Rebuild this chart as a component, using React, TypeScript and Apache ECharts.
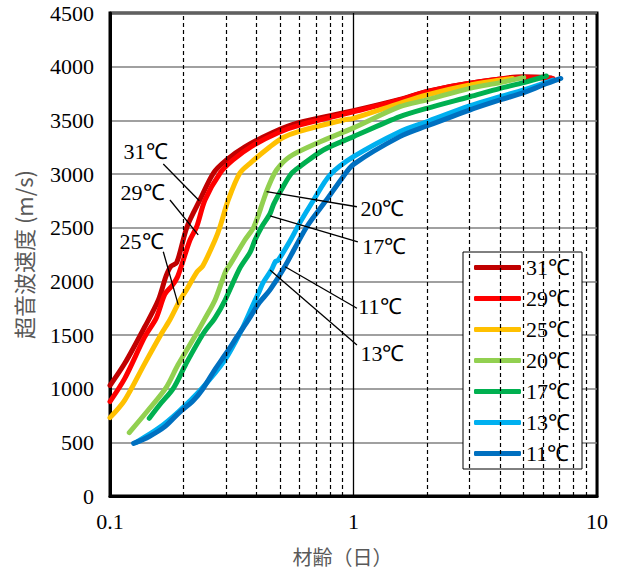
import React, { useEffect, useRef } from "react";
import * as echarts from "echarts";

const seriesNames = ["31℃", "29℃", "25℃", "20℃", "17℃", "13℃", "11℃"];
const seriesColors = ["#C00000", "#FF0000", "#FFC000", "#92D050", "#00B050", "#00B0F0", "#0070C0"];

const d31 = [[0.1,1030],[0.115,1236],[0.139,1577],[0.158,1826],[0.17,2050],[0.178,2140],[0.188,2175],[0.207,2506],[0.234,2758],[0.266,3009],[0.301,3131],[0.358,3252],[0.461,3382],[0.59,3475],[1,3590],[1.55,3695],[2,3770],[3,3845],[5,3905],[6.5,3895]];
const d29 = [[0.1,880],[0.115,1096],[0.139,1484],[0.155,1660],[0.168,1880],[0.18,1960],[0.19,2050],[0.213,2385],[0.227,2509],[0.2455,2758],[0.283,3007],[0.32,3131],[0.383,3260],[0.49,3385],[0.61,3460],[1,3580],[1.55,3690],[2,3767],[3,3845],[5,3900],[6.6,3890]];
const d25 = [[0.1,730],[0.115,894],[0.139,1236],[0.163,1516],[0.176,1640],[0.194,1826],[0.206,1919],[0.228,2090],[0.24,2140],[0.27,2385],[0.283,2509],[0.306,2758],[0.341,3007],[0.376,3100],[0.454,3254],[0.514,3340],[0.594,3395],[0.91,3503],[1,3519],[1.55,3659],[2,3736],[3,3829],[4.5,3890]];
const d20 = [[0.12,590],[0.1436,801],[0.17,1010],[0.19,1220],[0.227,1516],[0.245,1650],[0.27,1826],[0.298,2090],[0.31,2150],[0.358,2385],[0.39,2509],[0.427,2758],[0.447,2882],[0.483,3037],[0.547,3161],[0.707,3286],[1,3430],[1.55,3627],[2,3690],[3,3798],[4,3851],[5,3900]];
const d17 = [[0.145,724],[0.16,850],[0.182,1003],[0.205,1230],[0.242,1516],[0.27,1660],[0.297,1826],[0.341,2120],[0.376,2270],[0.394,2385],[0.42,2509],[0.454,2630],[0.47,2720],[0.514,2882],[0.557,3007],[0.603,3070],[0.752,3224],[1,3348],[1.55,3534],[2,3612],[3,3720],[4,3798],[5,3851],[6.2,3913]];
const d13 = [[0.128,500],[0.158,630],[0.191,785],[0.238,1000],[0.297,1270],[0.347,1547],[0.383,1760],[0.407,1889],[0.426,1990],[0.461,2110],[0.478,2185],[0.49,2195],[0.55,2380],[0.6,2540],[0.686,2758],[0.8,2990],[1,3161],[1.55,3394],[2,3487],[3,3634],[4,3720],[5,3783],[6.6,3875]];
const d11 = [[0.125,490],[0.145,555],[0.168,646],[0.191,770],[0.22,890],[0.24,995],[0.27,1180],[0.3,1330],[0.336,1500],[0.37,1640],[0.41,1800],[0.454,1920],[0.52,2130],[0.643,2509],[0.77,2750],[0.91,2980],[1,3090],[1.55,3348],[2,3447],[3,3596],[4,3690],[5,3758],[6,3829],[7.1,3890]];
const seriesData = [d31, d29, d25, d20, d17, d13, d11];

const minorXTicks = [0.2,0.3,0.4,0.5,0.6,0.7,0.8,0.9,2,3,4,5,6,7,8,9];
const yTicks = { min: 0, max: 4500, interval: 500 };

// annotation: label, text anchor [t, v], align, leader from, leader to
const annLabels = ["31℃", "29℃", "25℃", "20℃", "17℃", "11℃", "13℃"];
const annText = [[0.140,3205],[0.136,2823],[0.1347,2367],[1.063,2683],[1.08,2329],[1.042,1761],[1.063,1323]];
const annAlign = ["center","center","center","left","left","left","left"];
const annFrom = [[0.1655,3093],[0.1763,2758],[0.1655,2276],[0.4396,2835],[0.454,2609],[0.524,2136],[0.454,2106]];
const annTo = [[0.2327,2751],[0.2303,2432],[0.1907,1780],[1.033,2695],[1.042,2367],[1.033,1749],[1.033,1407]];

const SERIF = "'Liberation Serif', 'Times New Roman', serif";
const CJK = "'Noto Sans CJK JP', sans-serif";

export default function App() {
  const ref = useRef<HTMLDivElement>(null);
  useEffect(() => {
    const chart = echarts.init(ref.current!, null, { renderer: "svg" });
    const lines: any[] = seriesNames.map((name, i) => ({
      name,
      type: "line",
      data: seriesData[i],
      showSymbol: false,
      smooth: 0.3,
      z: 3,
      lineStyle: { color: seriesColors[i], width: 5, cap: "round", join: "round" },
      itemStyle: { color: seriesColors[i] },
    }));
    const gridSeries = {
      name: "_grid",
      type: "line",
      data: [],
      z: 1,
      silent: true,
      markLine: {
        silent: true,
        symbol: "none",
        label: { show: false },
        lineStyle: { color: "#000", type: [4, 3], width: 1.2 },
        data: minorXTicks.map((t) => ({ xAxis: t })),
      },
    };
    const annSeries = {
      name: "_ann",
      type: "line",
      data: [],
      z: 6,
      silent: true,
      markLine: {
        silent: true,
        symbol: "none",
        label: { show: false },
        lineStyle: { color: "#000", type: "solid", width: 1.3 },
        data: annFrom.map((f, i) => [{ coord: f }, { coord: annTo[i] }]),
      },
      markPoint: {
        silent: true,
        symbol: "circle",
        symbolSize: 1,
        itemStyle: { color: "rgba(0,0,0,0)" },
        data: annLabels.map((lab, i) => ({
          coord: annText[i],
          label: {
            show: true,
            formatter: lab,
            position: annAlign[i] === "left" ? "right" : "inside",
            distance: 0,
            color: "#000",
            fontSize: 22,
            fontFamily: SERIF,
          },
        })),
      },
    };
    chart.setOption({
      animation: false,
      backgroundColor: "#fff",
      grid: { left: 110, right: 28, top: 13, bottom: 75, show: true, borderColor: "#000", borderWidth: 3 },
      legend: {
        data: seriesNames,
        orient: "vertical",
        left: 463,
        top: 252,
        padding: [0, 12, 0, 11],
        itemGap: 0,
        itemWidth: 47,
        itemHeight: 5,
        icon: "roundRect",
        backgroundColor: "#fff",
        borderColor: "#000",
        borderWidth: 1,
        textStyle: { fontSize: 22, fontFamily: SERIF, color: "#000", lineHeight: 31, padding: [0, 0, 0, 0] },
      },
      xAxis: {
        type: "log",
        logBase: 10,
        min: 0.1,
        max: 10,
        name: "材齢（日）",
        nameLocation: "middle",
        nameGap: 50,
        nameTextStyle: { fontSize: 20, fontFamily: CJK, color: "#595959", padding: [0, 22, 0, 0] },
        axisLine: { lineStyle: { color: "#000", width: 3 } },
        axisTick: { show: false },
        axisLabel: { fontSize: 22, fontFamily: SERIF, color: "#000", margin: 14, formatter: (v: number) => String(v) },
        splitLine: { show: true, lineStyle: { color: "#000", width: 1.3 } },
        minorTick: { show: false },
        minorSplitLine: { show: false },
      },
      yAxis: {
        type: "value",
        min: yTicks.min,
        max: yTicks.max,
        interval: yTicks.interval,
        name: "超音波速度 (m/s)",
        nameLocation: "middle",
        nameGap: 76,
        nameRotate: 90,
        nameTextStyle: { fontSize: 22, fontFamily: CJK, color: "#595959" },
        axisLine: { show: true, lineStyle: { color: "#000", width: 3 } },
        axisTick: { show: false },
        axisLabel: { fontSize: 22, fontFamily: SERIF, color: "#000", margin: 16, formatter: (v: number) => String(v) },
        splitLine: { show: true, lineStyle: { color: "#808080", width: 1.5 } },
      },
      series: [gridSeries, ...lines, annSeries],
    });
    return () => chart.dispose();
  }, []);
  return <div ref={ref} style={{ position: "fixed", left: 0, top: 0, width: 625, height: 571 }} />;
}
